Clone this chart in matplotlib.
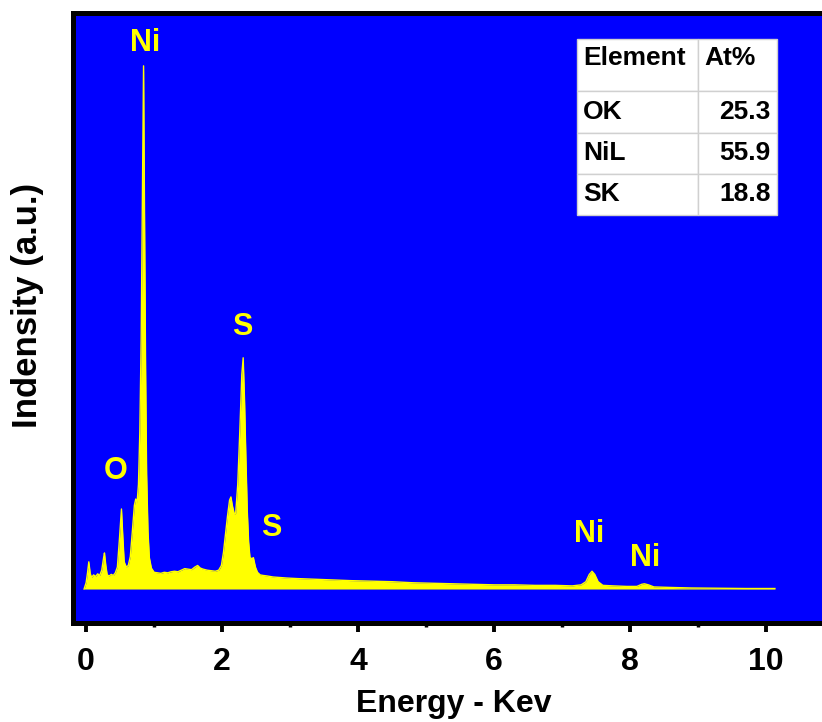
import matplotlib
matplotlib.use("Agg")
import matplotlib.pyplot as plt
from matplotlib.ticker import MultipleLocator

plt.rcParams['font.family'] = ['Liberation Sans', 'DejaVu Sans']
plt.rcParams['font.weight'] = 'bold'

# EDS spectrum, energy in keV and counts (arb. units)
energy = [-0.03, 0.00, 0.02, 0.04, 0.06, 0.08, 0.11, 0.14, 0.17, 0.20, 0.23, 0.26,
          0.27, 0.29, 0.31, 0.34, 0.37, 0.40, 0.43, 0.46, 0.49, 0.52, 0.54, 0.56,
          0.59, 0.62, 0.65, 0.68, 0.71, 0.73, 0.75, 0.77, 0.79, 0.81, 0.83, 0.845,
          0.86, 0.875, 0.89, 0.91, 0.93, 0.96, 1.00, 1.05, 1.10, 1.15, 1.20, 1.25,
          1.30, 1.35, 1.40, 1.45, 1.50, 1.55, 1.60, 1.64, 1.68, 1.72, 1.78, 1.84,
          1.90, 1.95, 1.99, 2.02, 2.05, 2.08, 2.11, 2.13, 2.15, 2.18, 2.20, 2.23,
          2.26, 2.29, 2.31, 2.33, 2.35, 2.37, 2.39, 2.41, 2.44, 2.46, 2.49, 2.52,
          2.56, 2.60, 2.66, 2.75, 2.85, 2.95, 3.10, 3.30, 3.50, 3.70, 3.90, 4.20,
          4.50, 4.80, 5.10, 5.40, 5.70, 6.00, 6.30, 6.60, 6.90, 7.15, 7.28, 7.35,
          7.40, 7.44, 7.48, 7.53, 7.60, 7.75, 7.95, 8.10, 8.17, 8.21, 8.27, 8.35,
          8.60, 8.90, 9.30, 9.70, 10.13]
counts = [0, 12, 30, 52, 30, 22, 27, 24, 29, 26, 36, 62,
          69, 45, 27, 25, 28, 26, 31, 42, 95, 153, 100, 52,
          42, 45, 62, 110, 160, 172, 165, 200, 300, 480, 780, 1000,
          700, 420, 220, 110, 60, 40, 32, 31, 30, 32, 31, 33,
          34, 33, 36, 39, 38, 37, 42, 45, 40, 38, 36, 35,
          34, 36, 45, 70, 105, 140, 170, 176, 160, 143, 145, 200,
          300, 410, 442, 360, 250, 150, 90, 60, 58, 60, 42, 32,
          27, 26, 25, 23, 22, 21, 20, 19, 18, 17, 16, 15,
          14, 12, 11, 10, 9, 8, 8, 7, 7, 6, 8, 14,
          28, 34, 28, 14, 7, 6, 5, 5, 9, 10, 8, 4,
          3, 2, 1.5, 1, 1]

# peak labels: text, energy, height
peak_names = ['Ni', 'O', 'S', 'S', 'Ni', 'Ni']
peak_x = [0.87, 0.44, 2.29, 2.72, 7.40, 8.22]
peak_y = [1044, 226, 501, 117, 105, 59]

# composition table
elements = ['OK', 'NiL', 'SK']
at_percent = ['25.3', '55.9', '18.8']

fig = plt.figure(figsize=(8.22, 7.22), dpi=100)
ax = fig.add_axes([0.0882, 0.1378, 0.9265, 0.8442])
ax.set_facecolor('#0000ff')

ax.fill_between(energy, 0, counts, color='#ffff00', lw=0)
ax.plot(energy, counts, color='#ffff00', lw=1)

for name, x, y in zip(peak_names, peak_x, peak_y):
    ax.text(x, y, name, color='#ffff00', fontsize=22, fontweight='bold',
            ha='center', va='center')

ax.set_xlim(-0.2, 11)
ax.set_ylim(-64, 1101)
ax.set_yticks([])
ax.xaxis.set_major_locator(MultipleLocator(2))
ax.xaxis.set_minor_locator(MultipleLocator(1))
ax.tick_params(axis='x', which='major', length=6.5, width=2.8, pad=11,
               labelsize=23, direction='out')
ax.tick_params(axis='x', which='minor', length=3, width=2.5, direction='out')
for lbl in ax.get_xticklabels():
    lbl.set_fontweight('bold')
for sp in ax.spines.values():
    sp.set_linewidth(3.6)
ax.spines['right'].set_visible(False)

ax.set_xlabel('Energy - Kev', fontsize=23, fontweight='bold', labelpad=9)
ax.set_ylabel('Indensity (a.u.)', fontsize=25, fontweight='bold')
ax.yaxis.set_label_coords(-0.037, 0.521)

rows = [[e, v] for e, v in zip(elements, at_percent)]
tbl = ax.table(cellText=rows, colLabels=['Element', 'At%'], cellLoc='left',
               colLoc='left', colWidths=[0.605, 0.395],
               bbox=[0.6624, 0.6686, 0.2626, 0.2887])
tbl.auto_set_font_size(False)
for (r, c), cell in tbl.get_celld().items():
    cell.set_edgecolor('#d0d0d0')
    cell.set_linewidth(1)
    cell.set_facecolor('white')
    cell.set_height(0.052 if r == 0 else 0.041)
    txt = cell.get_text()
    txt.set_fontsize(19)
    txt.set_fontweight('bold')
    cell.PAD = 0.05 if c == 0 else 0.076
    if r == 0:
        txt.set_va('baseline')
    elif c == 1:
        txt.set_ha('right')

fig.savefig('out.png', dpi=100)
